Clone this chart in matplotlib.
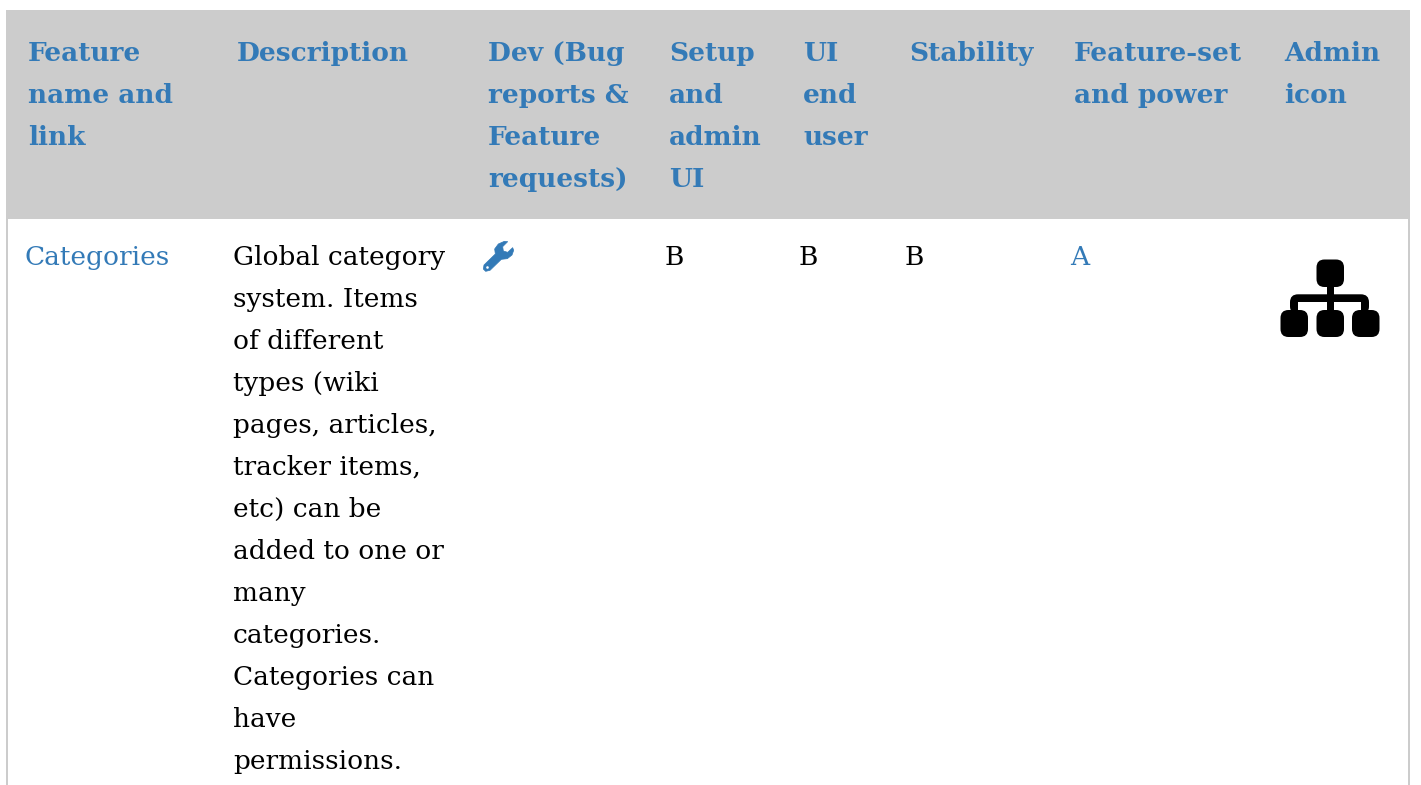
import matplotlib
matplotlib.use('Agg')
import matplotlib.pyplot as plt
from matplotlib.patches import FancyBboxPatch, PathPatch, Rectangle, Circle
from matplotlib.path import Path

headers = [
    ['Feature', 'name and', 'link'],
    ['Description'],
    ['Dev (Bug', 'reports &', 'Feature', 'requests)'],
    ['Setup', 'and', 'admin', 'UI'],
    ['UI', 'end', 'user'],
    ['Stability'],
    ['Feature-set', 'and power'],
    ['Admin', 'icon'],
]
feature = 'Categories'
description = ['Global category', 'system. Items', 'of different', 'types (wiki',
               'pages, articles,', 'tracker items,', 'etc) can be', 'added to one or',
               'many', 'categories.', 'Categories can', 'have', 'permissions.']
ratings = ['B', 'B', 'B', 'A']

W, H = 1421, 785
BLUE = '#337ab7'
GREY = '#cccccc'
LINE = 42
FS = 19.0

header_x = [28, 237, 488, 669, 803, 909, 1074, 1284]
rating_x = [665, 799, 905, 1070]
rating_col = ['black', 'black', 'black', BLUE]

fig = plt.figure(figsize=(W / 100, H / 100), dpi=100)
ax = fig.add_axes([0, 0, 1, 1])
ax.set_xlim(0, W)
ax.set_ylim(H, 0)
ax.axis('off')

# table frame
ax.add_patch(Rectangle((6, 10), 1404, 209, fc=GREY, ec='none'))
ax.add_patch(Rectangle((6, 219), 2, H - 219, fc=GREY, ec='none'))
ax.add_patch(Rectangle((1408, 219), 2, H - 219, fc=GREY, ec='none'))

for x, lines in zip(header_x, headers):
    for i, s in enumerate(lines):
        ax.text(x, 61 + i * LINE, s, color=BLUE, fontsize=FS, fontweight='bold',
                family='DejaVu Serif', va='baseline')

ax.text(24, 265, feature, color=BLUE, fontsize=FS, family='DejaVu Serif', va='baseline')
for i, s in enumerate(description):
    ax.text(233, 265 + i * LINE, s, color='black', fontsize=FS,
            family='DejaVu Serif', va='baseline')
for x, s, c in zip(rating_x, ratings, rating_col):
    ax.text(x, 265, s, color=c, fontsize=FS, family='DejaVu Serif', va='baseline')

# wrench icon, outline
wrench = [(42, 90), (76, 57), (74, 42), (85, 27), (103, 19), (113, 20), (98, 35), (100, 48),
          (113, 52), (128, 38), (131, 46), (126, 60), (112, 71), (94, 73), (60, 106), (47, 109), (40, 102)]
wrench = [(470 + px / 3, 235 + py / 3) for px, py in wrench]
ax.add_patch(PathPatch(Path(wrench + [wrench[0]], closed=True), fc=BLUE, ec=BLUE, lw=0.5, joinstyle='round'))
ax.add_patch(Circle((487.5, 267.5), 1.3, fc='white', ec='none'))


def box(x0, y0, x1, y1):
    ax.add_patch(FancyBboxPatch((x0 + 8, y0 + 8), x1 - x0 - 16, y1 - y0 - 16,
                                boxstyle='round,pad=8,rounding_size=8', fc='black', ec='none'))


# hierarchy icon
ax.add_patch(FancyBboxPatch((1290, 294.3), 79, 20, boxstyle='round,pad=0,rounding_size=8', fc='black', ec='none'))
ax.add_patch(Rectangle((1298.3, 302.3), 62.7, 14, fc='white', ec='none'))
ax.add_patch(Rectangle((1326.5, 285), 7.5, 27, fc='black', ec='none'))
box(1316.5, 259.5, 1344, 287)
box(1280.5, 310, 1308, 337)
box(1316.5, 310, 1344, 337)
box(1352, 310, 1379.5, 337)

fig.savefig('out.png', dpi=100)
